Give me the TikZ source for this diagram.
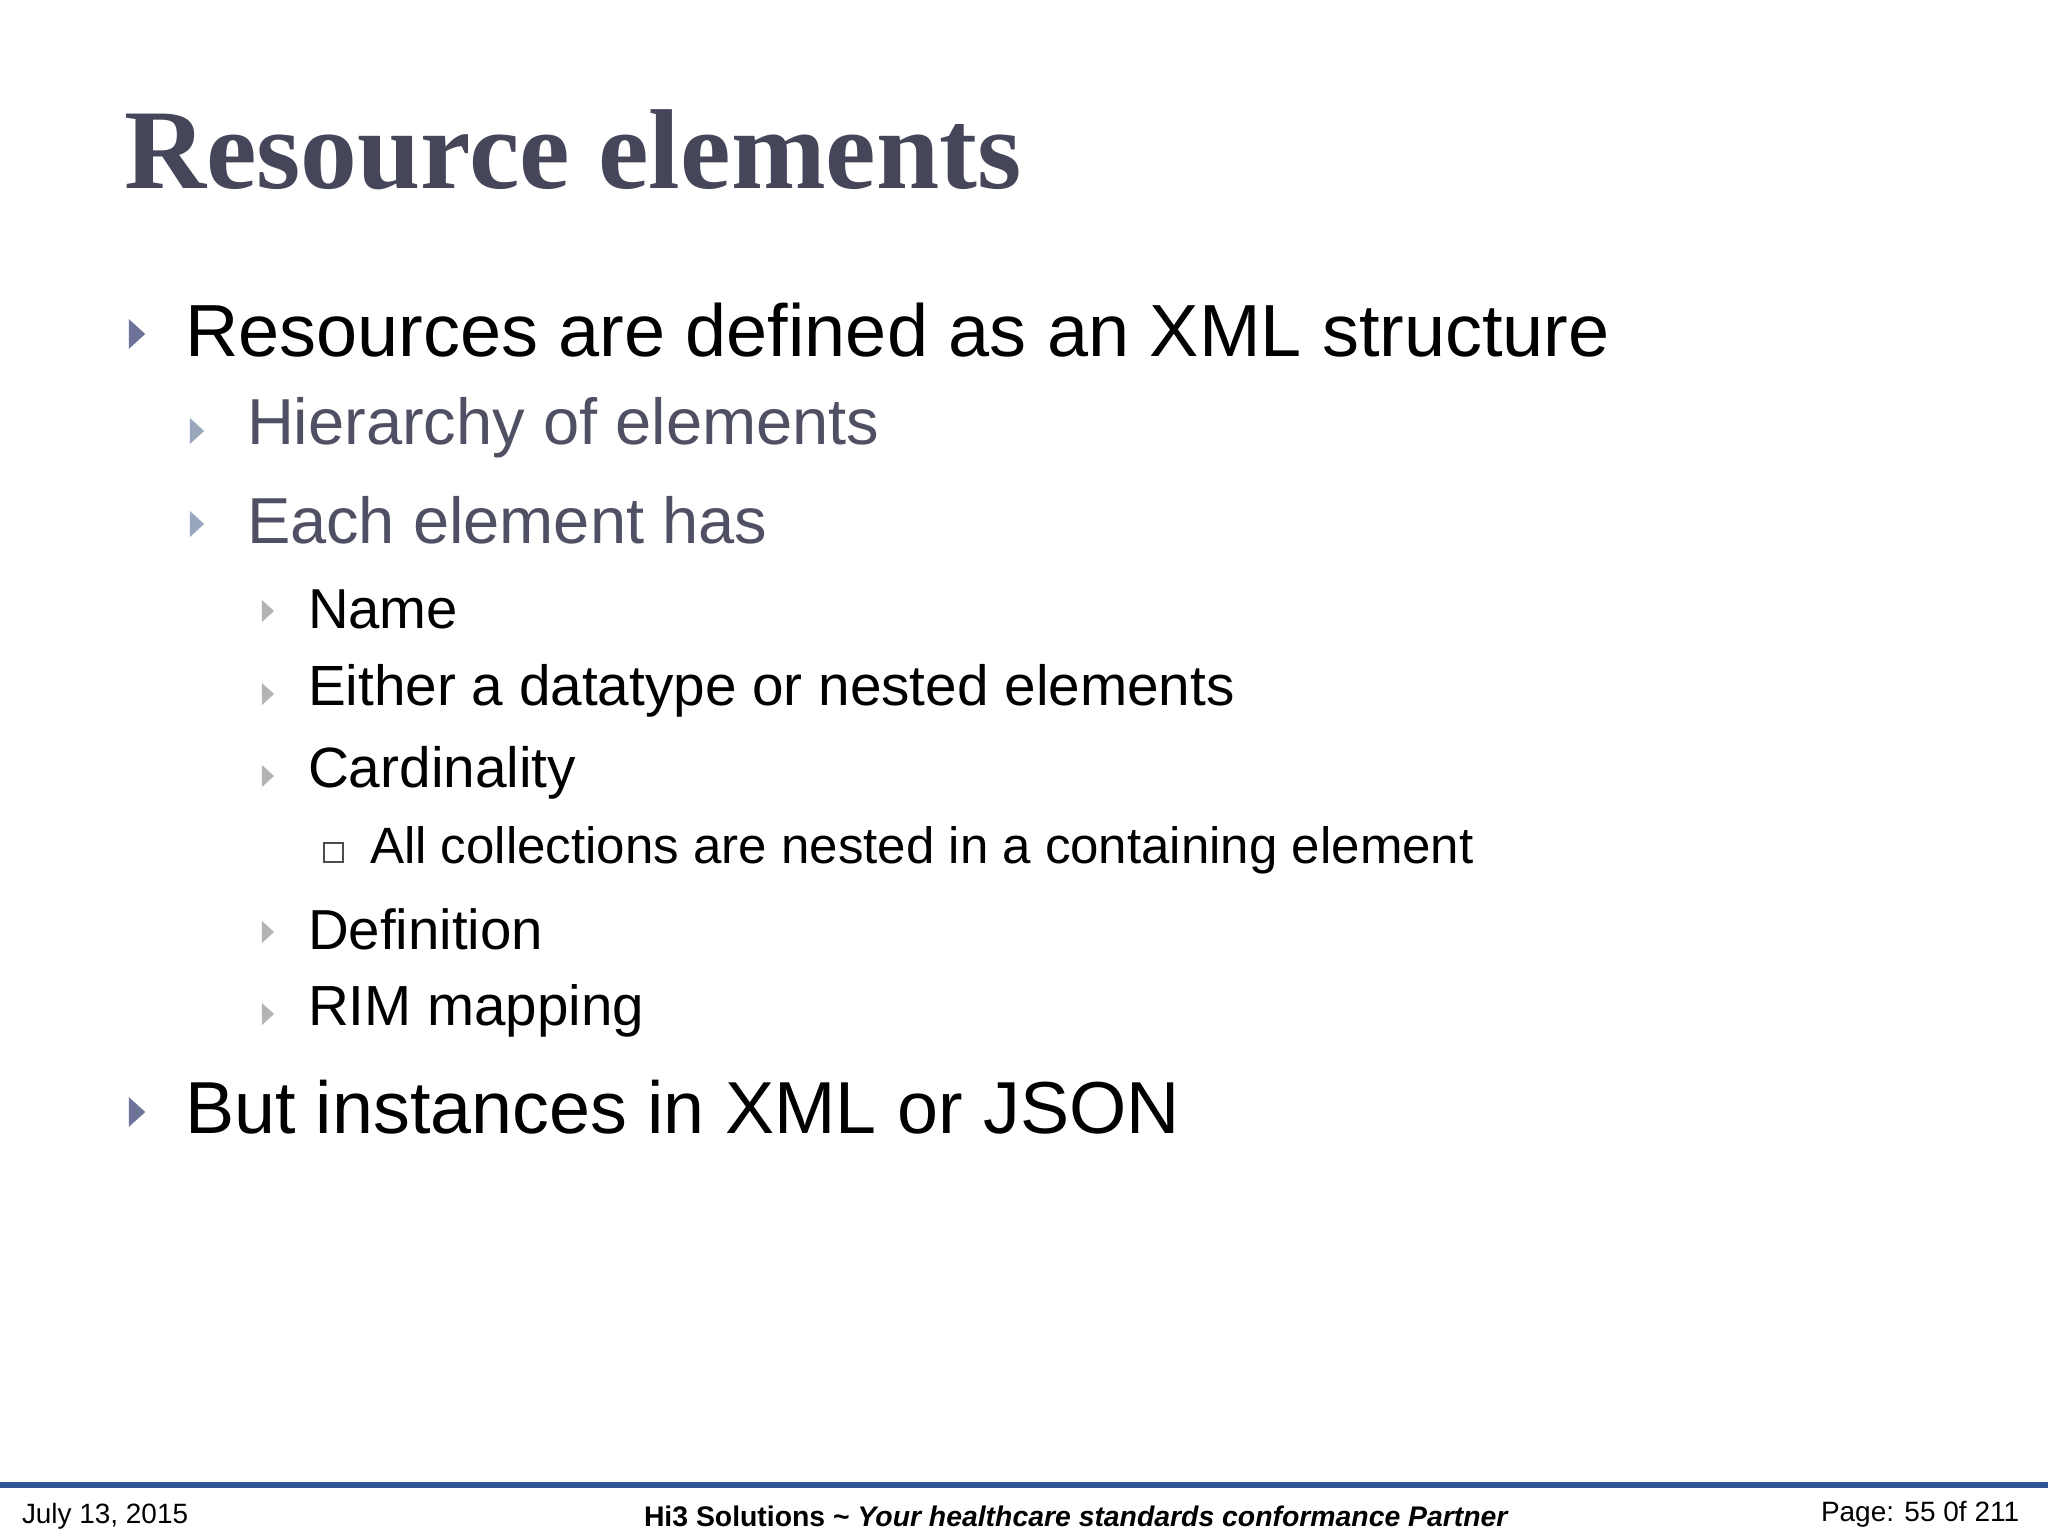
\documentclass[tikz,border=0pt]{standalone}
\usepackage{fontspec}
\setmainfont{Liberation Sans}
\newfontfamily\titlefont{Liberation Serif}
\usepackage{graphicx}
\definecolor{titlec}{HTML}{46465A}
\definecolor{subc}{HTML}{505064}
\definecolor{bA}{HTML}{6E7399}
\definecolor{bB}{HTML}{9AA6BC}
\definecolor{bC}{HTML}{B4B4B4}
\definecolor{footline}{HTML}{2F5597}
\tikzset{txt/.style={anchor=west,inner sep=0pt,outer sep=0pt}}
\newcommand{\tri}[4]{\fill[#4] (#1-#3*0.55,#2+#3) -- (#1+#3*0.55,#2) -- (#1-#3*0.55,#2-#3) -- cycle;}
\newcommand{\rb}[2]{\resizebox{#1cm}{!}{#2}}
\begin{document}
\begin{tikzpicture}[x=0.01cm,y=-0.01cm]
\useasboundingbox (0,0) rectangle (2048,1536);
\fill[white] (0,0) rectangle (2048,1536);
\node[txt,text=titlec] (title) at (124,150) {\rb{8.97}{\titlefont\bfseries Resource elements}};
% level 1
\tri{137}{334}{15}{bA}
\node[txt] (l1) at (185,330) {\rb{14.24}{Resources are defined as an XML structure}};
\tri{197}{431}{13}{bB}
\node[txt,text=subc] (l2) at (247,428) {\rb{6.32}{Hierarchy of elements}};
\tri{197}{524}{13}{bB}
\node[txt,text=subc] (l3) at (247,520) {\rb{5.20}{Each element has}};
\tri{268}{611}{11}{bC}
\node[txt] (l4) at (308,609) {\rb{1.50}{Name}};
\tri{268}{694}{11}{bC}
\node[txt] (l5) at (308,691) {\rb{9.26}{Either a datatype or nested elements}};
\tri{268}{776}{11}{bC}
\node[txt] (l6) at (308,773) {\rb{2.68}{Cardinality}};
\draw[black!70,line width=0.8pt] (324,843) rectangle (343,862);
\node[txt] (l7) at (370,850) {\rb{11.03}{All collections are nested in a containing element}};
\tri{268}{932}{11}{bC}
\node[txt] (l8) at (308,929) {\rb{2.35}{Definition}};
\tri{268}{1014}{11}{bC}
\node[txt] (l9) at (308,1011) {\rb{3.36}{RIM mapping}};
\tri{137}{1112}{15}{bA}
\node[txt] (l10) at (185,1107) {\rb{9.94}{But instances in XML or JSON}};
% footer
\draw[footline,line width=1.5pt] (0,1485) -- (2048,1485);
\node[txt] (fd) at (22,1516) {\rb{1.66}{July 13, 2015}};
\node[txt] (fc) at (644,1516) {\rb{8.63}{\bfseries Hi3 Solutions \textasciitilde{} \itshape Your healthcare standards conformance Partner}};
\node[txt] (fp) at (1821,1514) {\rb{1.98}{Page: 55 0f 211}};
\end{tikzpicture}
\end{document}
